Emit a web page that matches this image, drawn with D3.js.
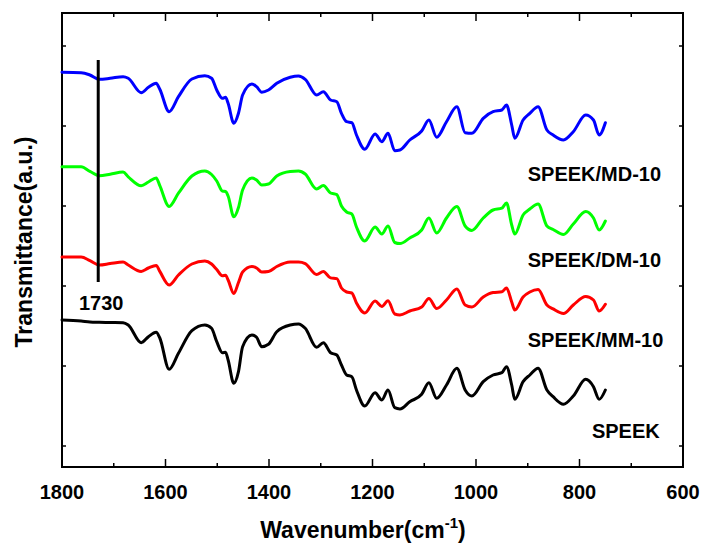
<!DOCTYPE html>
<html>
<head>
<meta charset="utf-8">
<script src="https://cdn.jsdelivr.net/npm/d3@7/dist/d3.min.js"></script>
<style>
  body { margin: 0; background: #fff; }
  svg { display: block; }
  text { font-family: "Liberation Sans", Arial, sans-serif; font-weight: bold; fill: #000; }
</style>
</head>
<body>
<svg id="chart" width="703" height="549"></svg>
<script>
// FTIR spectra, wavenumber (cm-1) vs. stacked transmittance (arbitrary units)
const wavenumbers = [1800, 1763, 1746, 1728, 1707, 1682, 1672, 1647, 1633, 1618,
  1611, 1593, 1575, 1549, 1524, 1511, 1501, 1490, 1484, 1479,
  1468, 1459, 1451, 1433, 1424, 1414, 1401, 1385, 1359, 1343,
  1330, 1308, 1295, 1281, 1269, 1260, 1250, 1240, 1231, 1215,
  1195, 1182, 1170, 1157, 1147, 1128, 1105, 1091, 1076, 1057,
  1037, 1021, 1008, 986, 967, 950, 941, 931, 925, 909,
  896, 880, 863, 851, 831, 812, 788, 773, 762, 750];

const speek = [147, 146, 145, 144.7, 144.5, 144.3, 142, 124.3, 130.3, 134.7,
  129, 97.7, 113.7, 136.3, 142, 138.7, 125.3, 114.3, 114.7, 107,
  83.7, 95.3, 120.3, 132, 129.7, 120.3, 122.7, 135.3, 142, 143,
  138.7, 119.7, 124.3, 114.3, 112, 102, 92, 90.3, 77, 61,
  74.3, 67, 77, 59.3, 58, 65.3, 72.7, 84.3, 68.7, 82,
  98.7, 77, 71, 85.3, 92, 94.3, 100.3, 82, 67.7, 85.3,
  92, 98.7, 77, 70.3, 62.7, 71, 87.7, 80.3, 67.7, 77];

const speekMM10 = [209.9, 209.9, 206.3, 202, 203.4, 204.9, 202, 195.6, 199, 201.6,
  195.6, 182, 192, 203, 206, 203, 197.5, 191.3, 191.8, 187,
  173.4, 184.5, 195, 200.5, 199, 195, 195.5, 200.5, 205, 205,
  203.4, 192.5, 195.5, 189.1, 188.4, 179, 175, 174, 164, 154,
  166, 160.6, 166.3, 153, 152, 156, 160, 168.5, 158.5, 167,
  178, 162, 160, 170, 174.5, 175.2, 179, 165, 157, 170,
  175, 177.5, 162, 158.1, 153.5, 162, 170.5, 167, 156, 162.7];

const speekDM10 = [300.2, 300.2, 295.6, 291.3, 292.7, 294.9, 290.2, 281.3, 285, 289.1,
  281.3, 260.6, 273.8, 291, 296, 292.5, 286, 275.9, 275.5, 271,
  250.2, 259.5, 277, 289, 287, 282, 283, 291, 295.5, 296,
  293, 278, 281.5, 274, 272.4, 261, 255, 253, 240, 226,
  240, 233, 241, 224.5, 223.4, 229, 237, 249, 234, 249,
  260.5, 241, 236.6, 249, 257, 258.8, 264, 242, 233, 252,
  258, 263, 241, 237.5, 232.5, 243, 255.5, 249, 237, 246];

const speekMD10 = [394.7, 394.3, 392, 387.7, 388.7, 390.3, 388.7, 374.3, 379.7, 383.7,
  377.7, 355.3, 370.3, 388, 391.3, 388.7, 377, 368.7, 369.7, 363.7,
  343.7, 353.7, 372, 383, 380.3, 374.7, 377, 383.7, 389.7, 391,
  387.7, 372, 375.3, 367, 365.3, 353.7, 345.3, 344.3, 332, 317.7,
  333, 325.3, 333.7, 316.3, 317, 327, 336, 347, 329.7, 345.3,
  360.3, 334.3, 333.7, 348.7, 355.3, 357, 362, 342, 328.7, 347,
  353.7, 360.3, 337, 332, 327, 335.3, 352, 347, 332, 344.3];

const seriesNames = ["SPEEK", "SPEEK/MM-10", "SPEEK/DM-10", "SPEEK/MD-10"];
const seriesColors = ["#000000", "#ff0000", "#00ff00", "#0000ff"];
const xTickValues = [1800, 1600, 1400, 1200, 1000, 800, 600];
const xMinorTickValues = [1700, 1500, 1300, 1100, 900, 700];
const yTickValues = [21, 101, 181, 261, 341, 421];
const markerWavenumber = 1730;
const markerSpan = [185, 407];

const series = [speek, speekMM10, speekDM10, speekMD10];

const svg = d3.select("#chart");
const margin = { left: 62, right: 20, top: 13, bottom: 82 };
const W = 703, H = 549;

const x = d3.scaleLinear().domain([1800, 600]).range([margin.left, W - margin.right]);
const y = d3.scaleLinear().domain([0, 454]).range([H - margin.bottom, margin.top]);

const plotL = x.range()[0], plotR = x.range()[1];
const plotT = y.range()[1], plotB = y.range()[0];

// inward ticks on all four sides
const g = svg.append("g");
const tickStroke = 1.5;
xTickValues.forEach(v => {
  g.append("line").attr("x1", x(v)).attr("x2", x(v)).attr("y1", plotB).attr("y2", plotB - 8)
    .attr("stroke", "#000").attr("stroke-width", tickStroke);
  g.append("line").attr("x1", x(v)).attr("x2", x(v)).attr("y1", plotT).attr("y2", plotT + 8)
    .attr("stroke", "#000").attr("stroke-width", tickStroke);
});
xMinorTickValues.forEach(v => {
  g.append("line").attr("x1", x(v)).attr("x2", x(v)).attr("y1", plotB).attr("y2", plotB - 4)
    .attr("stroke", "#000").attr("stroke-width", tickStroke);
  g.append("line").attr("x1", x(v)).attr("x2", x(v)).attr("y1", plotT).attr("y2", plotT + 4)
    .attr("stroke", "#000").attr("stroke-width", tickStroke);
});
yTickValues.forEach(v => {
  g.append("line").attr("x1", plotL).attr("x2", plotL + 4).attr("y1", y(v)).attr("y2", y(v))
    .attr("stroke", "#000").attr("stroke-width", tickStroke);
  g.append("line").attr("x1", plotR).attr("x2", plotR - 4).attr("y1", y(v)).attr("y2", y(v))
    .attr("stroke", "#000").attr("stroke-width", tickStroke);
});

// frame
svg.append("rect").attr("x", plotL).attr("y", plotT)
  .attr("width", plotR - plotL).attr("height", plotB - plotT)
  .attr("fill", "none").attr("stroke", "#000").attr("stroke-width", 2);

// x tick labels
svg.append("g").selectAll("text").data(xTickValues).join("text")
  .attr("x", d => x(d)).attr("y", plotB + 32)
  .attr("text-anchor", "middle").attr("font-size", 20)
  .text(d => d);

// spectra
const line = d3.line()
  .x((d, i) => x(wavenumbers[i]))
  .y(d => y(d))
  .curve(d3.curveMonotoneX);

svg.append("g").selectAll("path").data(series).join("path")
  .attr("d", d => line(d))
  .attr("fill", "none")
  .attr("stroke", (d, i) => seriesColors[i])
  .attr("stroke-width", 3)
  .attr("stroke-linejoin", "round")
  .attr("stroke-linecap", "round");

// 1730 cm-1 marker
svg.append("line")
  .attr("x1", x(markerWavenumber)).attr("x2", x(markerWavenumber))
  .attr("y1", y(markerSpan[0])).attr("y2", y(markerSpan[1]))
  .attr("stroke", "#000").attr("stroke-width", 3);
svg.append("text")
  .attr("x", x(markerWavenumber) + 3).attr("y", y(markerSpan[0]) + 28)
  .attr("text-anchor", "middle").attr("font-size", 20)
  .text(markerWavenumber);

// series labels under each trace
const labelSpots = [
  { w: 776, v: 29 },
  { w: 900, v: 120 },
  { w: 900, v: 200 },
  { w: 900, v: 286 }
];
svg.append("g").selectAll("text").data(seriesNames).join("text")
  .attr("x", (d, i) => x(labelSpots[i].w))
  .attr("y", (d, i) => y(labelSpots[i].v))
  .attr("font-size", 20)
  .text(d => d);

// axis titles
const xt = svg.append("text")
  .attr("x", 363).attr("y", 538)
  .attr("text-anchor", "middle").attr("font-size", 23);
xt.append("tspan").text("Wavenumber(cm");
xt.append("tspan").attr("dy", -10).attr("font-size", 15).text("-1");
xt.append("tspan").attr("dy", 10).text(")");

svg.append("text")
  .attr("transform", "translate(32,242) rotate(-90)")
  .attr("text-anchor", "middle").attr("font-size", 23)
  .text("Transmittance(a.u.)");
</script>
</body>
</html>
